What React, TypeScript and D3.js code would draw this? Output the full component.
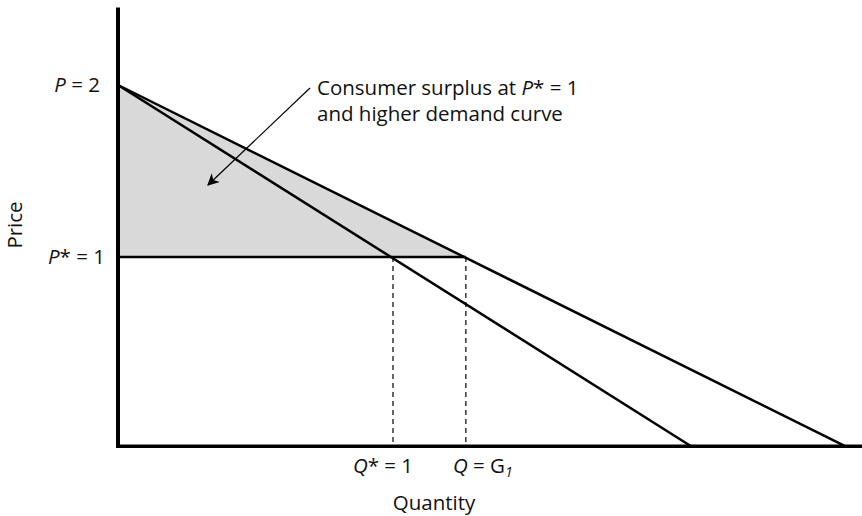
import React from "react";
import * as d3 from "d3";

// price levels (schematic)
const priceLevels = [1, 2];
const priceAxisMin = -0.1;
const priceAxisMax = 2.45;

// quantities: Q* = 1 and Q = G1
const qStar = 1;
const qG1 = 1.265;
const qAxisMax = 2.71;

// two linear demand curves (original and higher)
const demandOriginal = [
  { q: 0, p: 2 },
  { q: 2.084, p: priceAxisMin },
];
const demandHigher = [
  { q: 0, p: 2 },
  { q: 2.644, p: priceAxisMin },
];

// consumer surplus triangle under the higher demand curve at P* = 1
const surplus = [
  { q: 0, p: 2 },
  { q: qG1, p: 1 },
  { q: 0, p: 1 },
];

const FONT = "'Open Sans', 'Noto Sans', sans-serif";
const FS = 20.5;

export default function App() {
  const width = 862;
  const height = 516;

  const x = d3.scaleLinear().domain([0, qStar]).range([118, 393]);
  const y = d3.scaleLinear().domain(priceLevels).range([257, 85]);

  const line = d3
    .line<{ q: number; p: number }>()
    .x((d) => x(d.q))
    .y((d) => y(d.p));

  const surplusPath = d3
    .line<{ q: number; p: number }>()
    .x((d) => x(d.q))
    .y((d) => y(d.p))
    .curve(d3.curveLinearClosed)(surplus);

  const x0 = x(0);
  const yFloor = y(priceAxisMin);

  // arrow from label to shaded area
  const ax1 = 310, ay1 = 88, ax2 = 208, ay2 = 185;

  return (
    <svg
      width={width}
      height={height}
      style={{ position: "absolute", left: 0, top: 0 }}
      fontFamily={FONT}
    >
      <defs>
        <marker
          id="arrowHead"
          viewBox="0 0 10 10"
          refX="9"
          refY="5"
          markerWidth="12"
          markerHeight="12"
          markerUnits="userSpaceOnUse"
          orient="auto"
        >
          <path d="M0,0 L10,5 L0,10 L3,5 Z" fill="#000" />
        </marker>
      </defs>

      {/* shaded consumer surplus */}
      <path d={surplusPath || ""} fill="#d9d9d9" stroke="none" />

      {/* dashed drop lines */}
      {[qStar, qG1].map((q) => (
        <line
          key={q}
          x1={x(q)}
          x2={x(q)}
          y1={y(1)}
          y2={yFloor}
          stroke="#000"
          strokeWidth={1.2}
          strokeDasharray="5,4"
        />
      ))}

      {/* price line P* = 1 */}
      <line x1={x0} x2={x(qG1)} y1={y(1)} y2={y(1)} stroke="#000" strokeWidth={2.5} />

      {/* demand curves */}
      <path d={line(demandOriginal) || ""} fill="none" stroke="#000" strokeWidth={2.5} />
      <path d={line(demandHigher) || ""} fill="none" stroke="#000" strokeWidth={2.5} />

      {/* axes */}
      <line x1={x0} x2={x0} y1={y(priceAxisMax)} y2={yFloor + 1.5} stroke="#000" strokeWidth={4} />
      <line x1={x0 - 2} x2={x(qAxisMax)} y1={yFloor} y2={yFloor} stroke="#000" strokeWidth={3.5} />

      {/* arrow */}
      <line
        x1={ax1}
        y1={ay1}
        x2={ax2}
        y2={ay2}
        stroke="#000"
        strokeWidth={1.2}
        markerEnd="url(#arrowHead)"
      />

      {/* annotation */}
      <text x={317} y={95} fontSize={FS} fill="#111">
        Consumer surplus at <tspan fontStyle="italic">P</tspan>* = 1
      </text>
      <text x={317} y={121} fontSize={FS} fill="#111">
        and higher demand curve
      </text>

      {/* y tick labels */}
      <text x={100} y={y(2) + 7} fontSize={FS} textAnchor="end" fill="#111">
        <tspan fontStyle="italic">P</tspan> = 2
      </text>
      <text x={105} y={y(1) + 7} fontSize={FS} textAnchor="end" fill="#111">
        <tspan fontStyle="italic">P</tspan>* = 1
      </text>

      {/* x tick labels */}
      <text x={x(qStar) - 10} y={473} fontSize={FS} textAnchor="middle" fill="#111">
        <tspan fontStyle="italic">Q</tspan>* = 1
      </text>
      <text x={x(qG1) - 13} y={473} fontSize={FS} textAnchor="start" fill="#111">
        <tspan fontStyle="italic">Q</tspan> = G
        <tspan fontStyle="italic" fontSize={14} dy={4}>1</tspan>
      </text>

      {/* axis titles */}
      <text
        transform={`translate(22, 225) rotate(-90)`}
        fontSize={FS}
        textAnchor="middle"
        fill="#111"
      >
        Price
      </text>
      <text x={434} y={510} fontSize={FS} textAnchor="middle" fill="#111">
        Quantity
      </text>
    </svg>
  );
}
